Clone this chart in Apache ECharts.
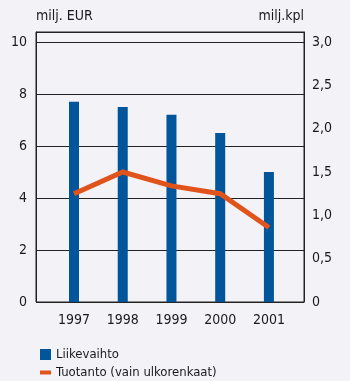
<!DOCTYPE html>
<html>
<head>
<meta charset="utf-8">
<script src="https://cdn.jsdelivr.net/npm/echarts@6/dist/echarts.min.js"></script>
<style>
  html, body { margin: 0; padding: 0; background: #f3f2f7; }
  #chart { width: 350px; height: 381px; }
</style>
</head>
<body>
<div id="chart"></div>
<script>
// Years on the horizontal axis
const years = [1997, 1998, 1999, 2000, 2001];
// Liikevaihto, milj. EUR (left axis)
const liikevaihto = [7.7, 7.5, 7.2, 6.5, 5.0];
// Tuotanto (vain ulkorenkaat), milj. kpl (right axis)
const tuotanto = [1.25, 1.5, 1.34, 1.25, 0.86];
// Tick labels
const leftTicks = [0, 2, 4, 6, 8, 10];
const rightTicks = [0, 0.5, 1.0, 1.5, 2.0, 2.5, 3.0];

const FONT = "'DejaVu Sans Condensed', 'Liberation Sans Narrow', 'Roboto', sans-serif";
const TEXT = '#1a1a1a';
const BAR = '#00559b';
const LINE = '#e0541c';

const chart = echarts.init(document.getElementById('chart'), null, { renderer: 'canvas' });

// One legend block per row, stacked under the plot
function legendRow(name, icon, top) {
  return {
    left: 35, top: top,
    itemWidth: 11, itemHeight: 11,
    textStyle: { fontFamily: FONT, fontSize: 13, color: TEXT, padding: [0, 0, 0, 0] },
    data: [{ name: name, icon: icon }]
  };
}

chart.setOption({
  backgroundColor: '#f3f2f7',
  animation: false,
  textStyle: { fontFamily: FONT, color: TEXT },
  grid: {
    left: 36, right: 46, top: 32, bottom: 79,
    show: true, borderColor: '#222', borderWidth: 1,
    backgroundColor: 'transparent'
  },
  legend: [
    legendRow('Liikevaihto', 'rect', 343),
    legendRow('Tuotanto (vain ulkorenkaat)', 'path://M0,0h11v4h-11z', 361)
  ],
  xAxis: {
    type: 'value',
    min: 1996.22, max: 2001.72,
    axisLine: { show: false },
    axisTick: { show: false },
    splitLine: { show: false },
    axisLabel: {
      customValues: years,
      formatter: v => String(v),
      margin: 11,
      fontFamily: FONT, fontSize: 14, color: TEXT
    }
  },
  yAxis: [
    {
      type: 'value',
      min: 0, max: 10.385, interval: 2,
      position: 'left',
      name: 'milj. EUR',
      nameLocation: 'end',
      nameGap: 9,
      nameTextStyle: { align: 'left', fontFamily: FONT, fontSize: 14, color: TEXT },
      axisLine: { show: true, lineStyle: { color: '#222' } },
      axisTick: { show: false },
      splitLine: { show: true, lineStyle: { color: '#222', width: 1 } },
      axisLabel: {
        customValues: leftTicks,
        formatter: v => String(v),
        margin: 9,
        fontFamily: FONT, fontSize: 14, color: TEXT
      }
    },
    {
      type: 'value',
      min: 0, max: 3.1154, interval: 0.5,
      position: 'right',
      name: 'milj.kpl',
      nameLocation: 'end',
      nameGap: 9,
      nameTextStyle: { align: 'right', fontFamily: FONT, fontSize: 14, color: TEXT },
      axisLine: { show: true, lineStyle: { color: '#222' } },
      axisTick: { show: false },
      splitLine: { show: false },
      axisLabel: {
        customValues: rightTicks,
        formatter: v => (v === 0 ? '0' : v.toFixed(1).replace('.', ',')),
        margin: 8,
        fontFamily: FONT, fontSize: 14, color: TEXT
      }
    }
  ],
  series: [
    {
      name: 'Liikevaihto',
      type: 'bar',
      yAxisIndex: 0,
      barWidth: 10,
      itemStyle: { color: BAR },
      data: years.map((y, i) => [y, liikevaihto[i]])
    },
    {
      name: 'Tuotanto (vain ulkorenkaat)',
      type: 'line',
      yAxisIndex: 1,
      showSymbol: false,
      symbol: 'none',
      lineStyle: { color: LINE, width: 5, cap: 'butt', join: 'miter' },
      itemStyle: { color: LINE },
      data: years.map((y, i) => [y, tuotanto[i]])
    }
  ]
});
</script>
</body>
</html>
